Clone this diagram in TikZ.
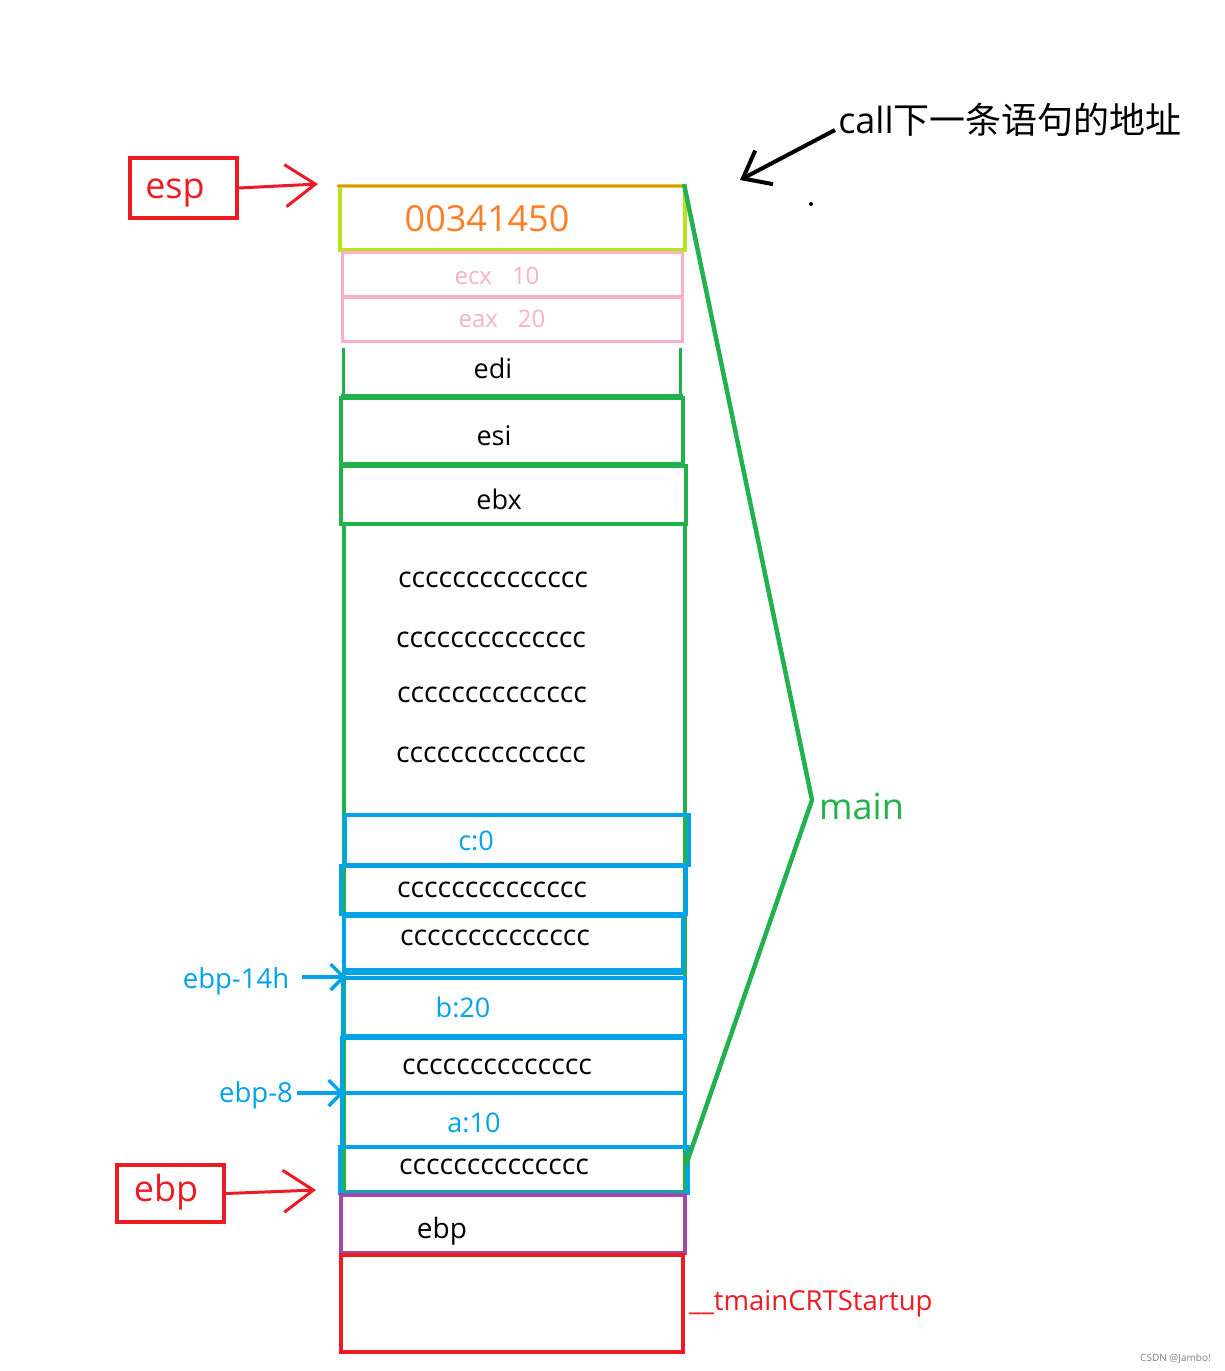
\documentclass[tikz,border=0pt]{standalone}
\usepackage{fontspec}
\setmainfont{Open Sans}
\newfontfamily\cjk{Noto Sans CJK SC}
\usetikzlibrary{arrows.meta}
\definecolor{pred}{RGB}{237,28,36}
\definecolor{porange}{RGB}{255,127,39}
\definecolor{plime}{RGB}{181,230,29}
\definecolor{ppink}{RGB}{255,174,201}
\definecolor{pgreen}{RGB}{34,177,76}
\definecolor{pblue}{RGB}{0,162,232}
\definecolor{ppurple}{RGB}{163,73,164}
\begin{document}
\begin{tikzpicture}[x=1pt,y=-1pt,
  fs/.style={font=\fontsize{#1}{#1}\selectfont},
  txt/.style={anchor=base,inner sep=0pt},
  cccs/.style={txt,fs=28.5},
  cell/.style={draw=#1,line width=4pt,inner sep=0pt},
  redbarb/.style={draw=pred,line width=3pt,-{Straight Barb[length=30pt,width=42pt]}},
  bluebarb/.style={draw=pblue,line width=3.5pt,-{Straight Barb[length=13pt,width=26pt]}},
]
\useasboundingbox[fill=white] (0,0) rectangle (1225,1371);

% ---- top: call label
\node[txt,fs=36] (call) at (1010,133) {call{\cjk 下一条语句的地址}};
\coordinate (callT) at (740,180);
\draw[line width=4pt,-{Straight Barb[length=24pt,width=38pt]}] (835,130) -- (callT);
\fill (811,204) circle (2pt);

% ---- esp
\node[cell=pred,line width=3.5pt,minimum width=107pt,minimum height=60pt] (espbox) at (183.5,188) {};
\node[txt,fs=36,text=pred] at (175,198) {esp};
\coordinate (espT) at (318,184);
\draw[redbarb] (espbox.east) -- (espT);

% ---- stack cells
\node[cell=plime,line width=4.5pt,minimum width=345pt,minimum height=64pt] (ret) at (512.5,218) {};
\draw[porange,line width=2.5pt] (337,186) -- (684,186);
\node[txt,fs=36,text=porange] at (487,231) {00341450};

\node[cell=ppink,line width=3pt,minimum width=340pt,minimum height=44pt] (ecx) at (512,274) {};
\node[txt,fs=24,text=ppink] at (497,284) {ecx\hspace{20pt}10};
\node[cell=ppink,line width=3pt,minimum width=340pt,minimum height=44pt] (eax) at (512,319) {};
\node[txt,fs=24,text=ppink] at (502,327) {eax\hspace{20pt}20};

\draw[pgreen,line width=3pt] (343,348) -- (343,395) (680,348) -- (680,395);
\draw[pgreen,line width=5pt] (341,396) -- (683,396);
\node[txt,fs=27] at (493,378) {edi};

\node[cell=pgreen,minimum width=342pt,minimum height=66pt] (esi) at (512,431) {};
\node[txt,fs=27] at (494,445) {esi};
\node[cell=pgreen,minimum width=345pt,minimum height=58pt] (ebx) at (513.5,495) {};
\node[txt,fs=27] at (499,509) {ebx};

% green frame of locals
\draw[pgreen,line width=3.5pt] (344,524) -- (344,1192) (685,524) -- (685,1192);
\draw[pgreen,line width=4.5pt] (340,1192) -- (686,1192);
\node[cccs] at (493,587) {cccccccccccccc};
\node[cccs] at (491,647) {cccccccccccccc};
\node[cccs] at (492,702) {cccccccccccccc};
\node[cccs] at (491,762) {cccccccccccccc};

% blue cells
\node[cell=pblue,minimum width=344pt,minimum height=50pt] (c0) at (517,840) {};
\node[txt,fs=27,text=pblue] at (476,850) {c:0};
\node[cell=pblue,line width=4.5pt,minimum width=345pt,minimum height=48pt] (cc1) at (513.5,890) {};
\node[cccs] at (492,897) {cccccccccccccc};
\node[cell=pblue,minimum width=339pt,minimum height=54pt] (cc2) at (513.5,943) {};
\node[cccs] at (495,945) {cccccccccccccc};
\draw[pblue,line width=3.5pt] (343,973) -- (684,973);
\node[cell=pblue,minimum width=342pt,minimum height=58pt] (b20) at (514,1007) {};
\node[txt,fs=27,text=pblue] at (463,1017) {b:20};
\node[cell=pblue,minimum width=343pt,minimum height=55pt] (cc3) at (513.5,1065.5) {};
\node[cccs] at (497,1074) {cccccccccccccc};
\node[cell=pblue,minimum width=343pt,minimum height=54pt] (a10) at (513.5,1120) {};
\node[txt,fs=27,text=pblue] at (474,1132) {a:10};
\node[cell=pblue,minimum width=348pt,minimum height=46pt] (cc4) at (514,1170) {};
\node[cccs] at (494,1174) {cccccccccccccc};

\node[cell=ppurple,line width=3.5pt,minimum width=344pt,minimum height=58pt] (ebpcell) at (513,1224) {};
\node[txt,fs=28] at (442,1238) {ebp};
\node[cell=pred,line width=3.5pt,minimum width=342pt,minimum height=97pt] (crt) at (512,1303.5) {};
\node[txt,fs=27.5,text=pred,anchor=base west] (crtlab) at (689,1310) {\_\_tmainCRTStartup};

% ---- ebp label
\node[cell=pred,line width=3.5pt,minimum width=107pt,minimum height=57pt] (ebpbox) at (170.5,1193.5) {};
\node[txt,fs=36,text=pred] at (166,1201) {ebp};
\coordinate (ebpT) at (316,1190);
\draw[redbarb] (ebpbox.east) -- (ebpT);

% ---- blue offsets
\node[txt,fs=27.5,text=pblue] (o14) at (236,988) {ebp-14h};
\coordinate (o14T) at (346,977);
\draw[bluebarb] (302,977) -- (o14T);
\node[txt,fs=27.5,text=pblue] (o8) at (256,1102) {ebp-8};
\coordinate (o8T) at (344,1093);
\draw[bluebarb] (297,1093) -- (o8T);

% ---- main brace
\coordinate (mtop) at (684,184);
\coordinate (mv) at (812,800);
\coordinate (mbot) at (686,1165);
\draw[pgreen,line width=4.5pt,line join=round] (mtop) -- (mv) -- (mbot);
\node[txt,fs=36,text=pgreen,anchor=base west] (mainlab) at (819,819) {main};

% ---- watermark
\node[txt,fs=10,text=gray,anchor=base east] at (1211,1361) {CSDN @Jambo!};
\end{tikzpicture}
\end{document}
